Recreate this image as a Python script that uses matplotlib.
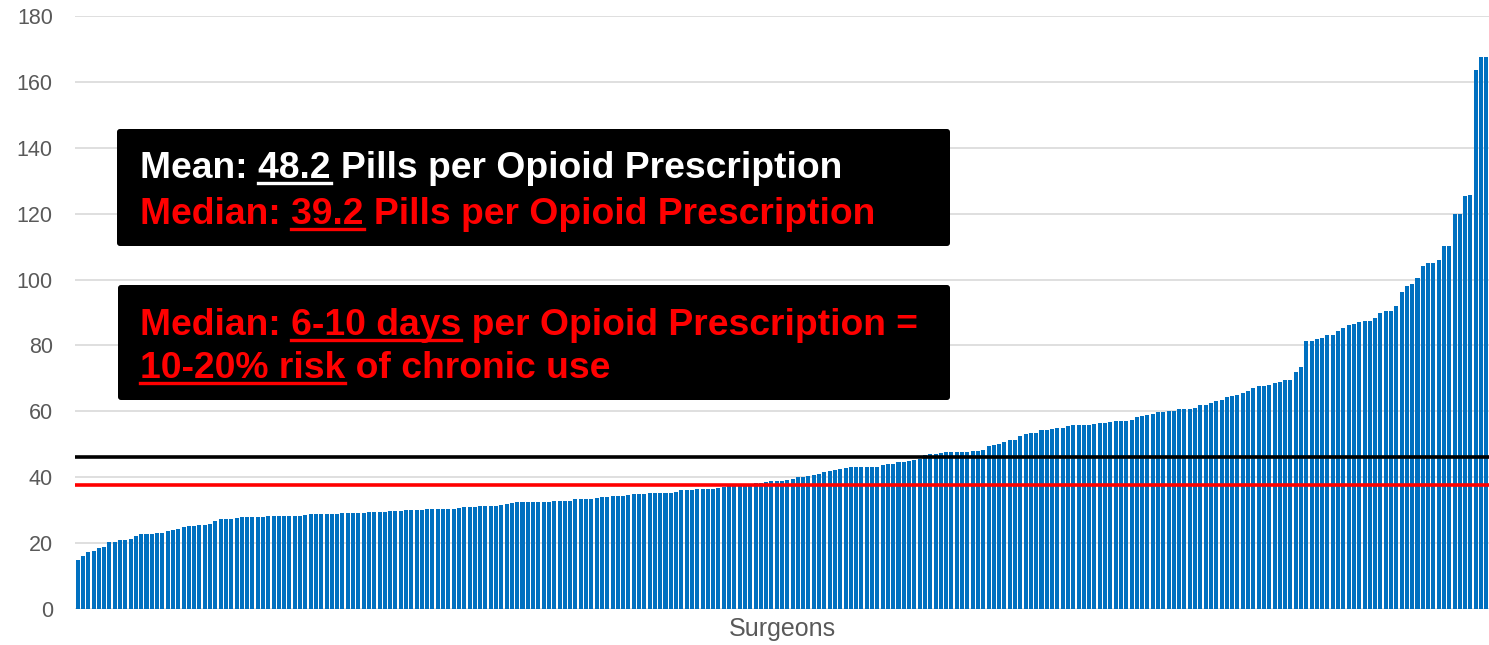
import matplotlib
matplotlib.use("Agg")
import matplotlib.pyplot as plt
import matplotlib.transforms as mtransforms
from matplotlib.patches import FancyBboxPatch
from matplotlib.lines import Line2D
import numpy as np

# Pills per opioid prescription, one bar per surgeon, sorted ascending
pills = [
    15.0, 16.1, 17.2, 17.7, 18.4, 18.9, 20.2, 20.2, 20.9, 21.0,
    21.1, 22.3, 22.7, 22.7, 22.9, 23.1, 23.1, 23.6, 24.1, 24.2,
    24.8, 25.1, 25.3, 25.4, 25.5, 25.7, 26.8, 27.2, 27.2, 27.4,
    27.7, 27.9, 28.0, 28.0, 28.0, 28.0, 28.1, 28.2, 28.2, 28.2,
    28.2, 28.2, 28.3, 28.4, 28.7, 28.8, 28.8,
    28.9, 28.9, 28.9, 29.1, 29.2, 29.2, 29.2, 29.2, 29.3, 29.3,
    29.3, 29.3, 29.6, 29.6, 29.7, 30.0, 30.1, 30.1, 30.2, 30.5,
    30.5, 30.5, 30.5, 30.5, 30.5, 30.8, 31.0, 31.0, 31.1, 31.3,
    31.4, 31.4, 31.4, 31.6, 31.8, 32.3, 32.4, 32.4, 32.4, 32.5,
    32.5, 32.6, 32.6,
    32.7, 32.7, 32.7, 32.9, 33.3, 33.3, 33.3, 33.3, 33.8, 33.9,
    33.9, 34.3, 34.3, 34.3, 34.7, 34.8, 34.9, 34.9, 35.1, 35.2,
    35.2, 35.2, 35.3, 35.5,
    36.0, 36.0, 36.1, 36.3, 36.4, 36.4, 36.5, 36.7, 37.0, 37.2,
    37.4, 37.6, 37.9, 38.0, 38.1, 38.3, 38.6, 38.8, 38.9, 39.0,
    39.3, 39.6, 40.2,
    40.1, 40.3, 40.8, 41.1, 41.5, 42.0, 42.1, 42.5, 42.9, 43.1,
    43.1, 43.1, 43.1, 43.1, 43.1, 43.6, 43.9, 43.9, 44.5, 44.7,
    44.8, 45.1, 45.4,
    46.7, 46.9, 47.2, 47.4, 47.7, 47.8, 47.8, 47.8, 47.8, 48.1,
    48.1, 48.4, 49.5, 49.8, 50.2, 50.6, 51.3, 51.4, 52.5, 53.1,
    53.3, 53.5,
    54.2, 54.3, 54.6, 54.9, 54.9, 55.5, 55.7, 55.7, 56.0, 56.0,
    56.3, 56.5, 56.6, 56.8, 57.0, 57.0, 57.1, 57.5, 58.4, 58.7,
    58.8, 59.1, 59.8,
    59.9, 60.0, 60.1, 60.7, 60.7, 60.7, 61.0, 61.8, 62.0, 62.4,
    63.1, 63.5, 64.3, 64.8, 65.1, 65.5, 66.1, 67.2, 67.6, 67.6,
    68.0, 68.6,
    69.0, 69.4, 69.6, 71.8, 73.6, 81.4, 81.4, 82.0, 82.2, 83.2,
    83.2, 84.3, 85.2, 86.2, 86.4, 87.0, 87.3, 87.4, 88.2, 90.0,
    90.4, 90.6, 92.1, 96.3, 98.1, 98.7, 100.4, 104.2, 104.9, 104.9,
    105.9, 110.1, 110.2, 120.0, 120.0, 125.4, 125.7, 163.5, 167.5, 167.5,
]
mean_line = 46.0
median_line = 37.5
y_ticks = [0, 20, 40, 60, 80, 100, 120, 140, 160, 180]

box_top_lines = [
    ("Mean: 48.2 Pills per Opioid Prescription", "48.2", "Mean: ", "white"),
    ("Median: 39.2 Pills per Opioid Prescription", "39.2", "Median: ", "#FF0000"),
]
box_bottom_lines = [
    ("Median: 6-10 days per Opioid Prescription =", "6-10 days", "Median: ", "#FF0000"),
    ("10-20% risk of chronic use", "10-20% risk", "", "#FF0000"),
]

W, H = 1489, 645
plt.rcParams["font.family"] = ["Liberation Sans", "DejaVu Sans"]

fig = plt.figure(figsize=(W / 100, H / 100), dpi=100)
ax = fig.add_axes([75 / W, 1 - 609 / H, 1 - 75 / W, (609 - 16) / H])

x = np.arange(len(pills))
ax.bar(x, pills, width=0.76, color="#0070C0", zorder=2)
ax.axhline(mean_line, color="black", lw=2.6, zorder=3)
ax.axhline(median_line, color="#FF0000", lw=2.6, zorder=3)

ax.set_xlim(-0.5, len(pills) - 0.5)
ax.set_ylim(0, 180)
ax.set_yticks(y_ticks)
ax.set_xticks([])
ax.yaxis.grid(True, color="#d9d9d9", lw=1.2, zorder=0)
ax.set_axisbelow(True)
for s in ax.spines.values():
    s.set_visible(False)
ax.tick_params(axis="y", length=0, pad=16, labelsize=15.5, labelcolor="#595959")
ax.set_xlabel("Surgeons", fontsize=18, color="#595959", labelpad=6)

# annotation boxes, positioned in pixels
px = mtransforms.IdentityTransform()
fig.canvas.draw()
renderer = fig.canvas.get_renderer()


def text_width(s, size):
    t = fig.text(0, 0, s, fontsize=size, fontweight="bold", transform=px)
    w = t.get_window_extent(renderer).width
    t.remove()
    return w


def draw_box(x0, y0, x1, y1, lines, baselines, size=26.8):
    box = FancyBboxPatch((x0, H - y1), x1 - x0, y1 - y0,
                         boxstyle="round,pad=0,rounding_size=3",
                         fc="black", ec="none", transform=px)
    fig.add_artist(box)
    for (line, under, prefix, color), base in zip(lines, baselines):
        fig.text(140, H - base, line, fontsize=size, fontweight="bold",
                 color=color, va="baseline", transform=px)
        u0 = 140 + (text_width(prefix + "x", size) - text_width("x", size) if prefix else 0)
        u1 = 140 + text_width(prefix + under, size)
        uy = H - base - 5
        fig.add_artist(Line2D([u0, u1], [uy, uy], color=color, lw=2.4,
                              transform=px))


draw_box(117, 129, 950, 246, box_top_lines, [178, 224])
draw_box(118, 285, 950, 400, box_bottom_lines, [335, 378])

fig.savefig("out.png", dpi=100)
